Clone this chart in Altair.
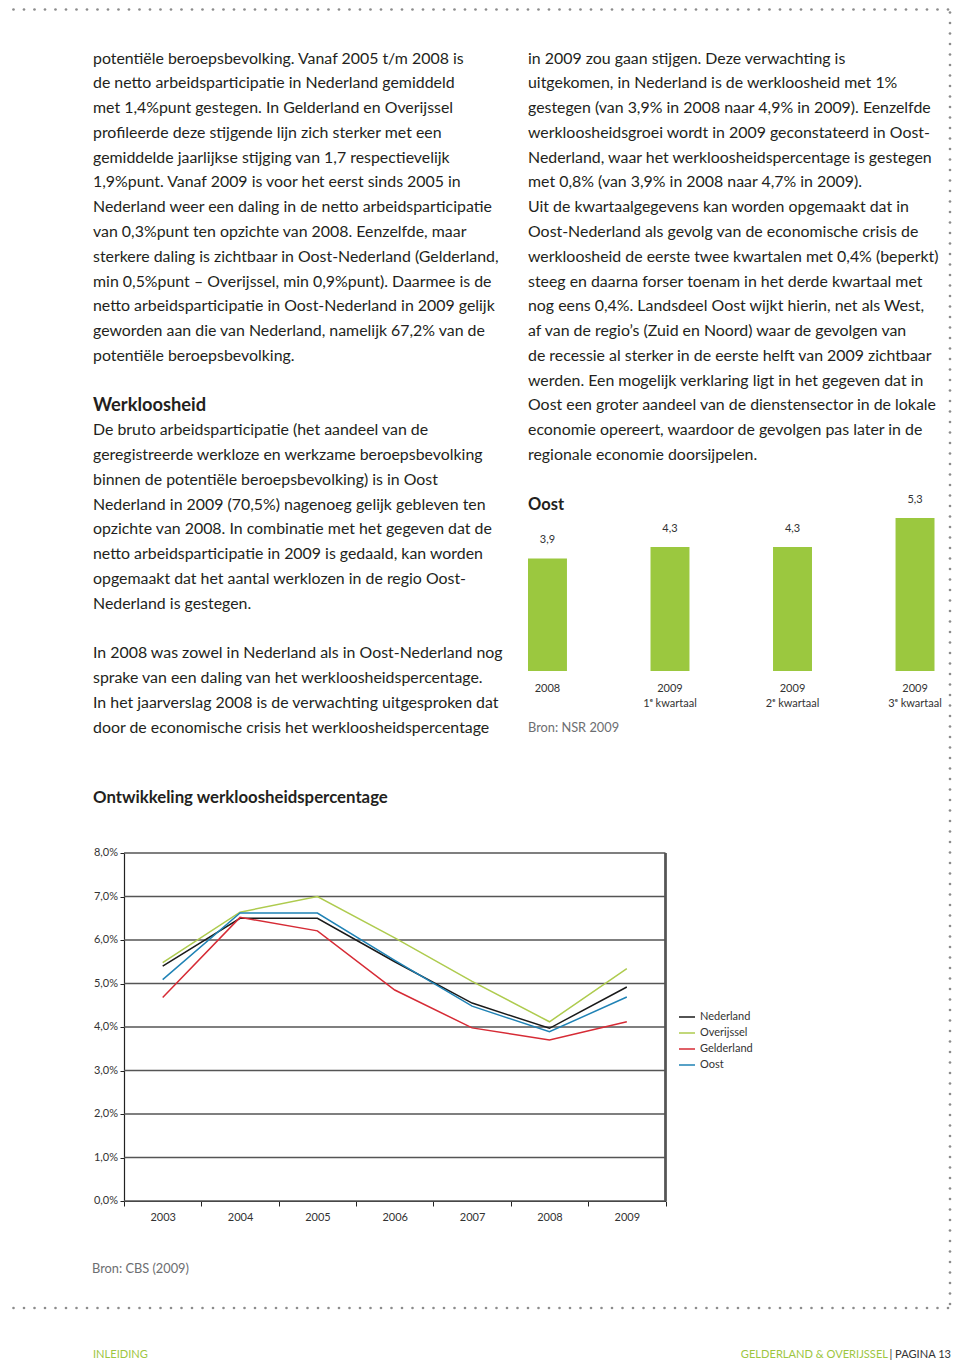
import altair as alt
import pandas as pd

# ---------------- data ----------------
years = ["2003", "2004", "2005", "2006", "2007", "2008", "2009"]
series_names = ["Nederland", "Overijssel", "Gelderland", "Oost"]
series_colors = ["#1a1a1a", "#aecb4e", "#d62b35", "#1f82b5"]
nederland = [5.4, 6.5, 6.5, 5.5, 4.55, 3.97, 4.92]
overijssel = [5.48, 6.64, 7.0, 6.05, 5.05, 4.12, 5.34]
gelderland = [4.68, 6.52, 6.21, 4.85, 3.98, 3.7, 4.12]
oost = [5.09, 6.62, 6.62, 5.53, 4.48, 3.89, 4.69]
y_ticks = [0, 1, 2, 3, 4, 5, 6, 7, 8]

bar_periods = ["2008", "2009 K1", "2009 K2", "2009 K3"]
bar_label_line1 = ["2008", "2009", "2009", "2009"]
bar_label_line2 = ["", "1ᵉ kwartaal", "2ᵉ kwartaal", "3ᵉ kwartaal"]
bar_values = [3.9, 4.3, 4.3, 5.3]

left_block_1 = [
    "potentiële beroepsbevolking. Vanaf 2005 t/m 2008 is",
    "de netto arbeidsparticipatie in Nederland gemiddeld",
    "met 1,4%punt gestegen. In Gelderland en Overijssel",
    "profileerde deze stijgende lijn zich sterker met een",
    "gemiddelde jaarlijkse stijging van 1,7 respectievelijk",
    "1,9%punt. Vanaf 2009 is voor het eerst sinds 2005 in",
    "Nederland weer een daling in de netto arbeidsparticipatie",
    "van 0,3%punt ten opzichte van 2008. Eenzelfde, maar",
    "sterkere daling is zichtbaar in Oost-Nederland (Gelderland,",
    "min 0,5%punt – Overijssel, min 0,9%punt). Daarmee is de",
    "netto arbeidsparticipatie in Oost-Nederland in 2009 gelijk",
    "geworden aan die van Nederland, namelijk 67,2% van de",
    "potentiële beroepsbevolking.",
]
heading_1 = "Werkloosheid"
left_block_2 = [
    "De bruto arbeidsparticipatie (het aandeel van de",
    "geregistreerde werkloze en werkzame beroepsbevolking",
    "binnen de potentiële beroepsbevolking) is in Oost",
    "Nederland in 2009 (70,5%) nagenoeg gelijk gebleven ten",
    "opzichte van 2008. In combinatie met het gegeven dat de",
    "netto arbeidsparticipatie in 2009 is gedaald, kan worden",
    "opgemaakt dat het aantal werklozen in de regio Oost-",
    "Nederland is gestegen.",
]
left_block_3 = [
    "In 2008 was zowel in Nederland als in Oost-Nederland nog",
    "sprake van een daling van het werkloosheidspercentage.",
    "In het jaarverslag 2008 is de verwachting uitgesproken dat",
    "door de economische crisis het werkloosheidspercentage",
]
right_block = [
    "in 2009 zou gaan stijgen. Deze verwachting is",
    "uitgekomen, in Nederland is de werkloosheid met 1%",
    "gestegen (van 3,9% in 2008 naar 4,9% in 2009). Eenzelfde",
    "werkloosheidsgroei wordt in 2009 geconstateerd in Oost-",
    "Nederland, waar het werkloosheidspercentage is gestegen",
    "met 0,8% (van 3,9% in 2008 naar 4,7% in 2009).",
    "Uit de kwartaalgegevens kan worden opgemaakt dat in",
    "Oost-Nederland als gevolg van de economische crisis de",
    "werkloosheid de eerste twee kwartalen met 0,4% (beperkt)",
    "steeg en daarna forser toenam in het derde kwartaal met",
    "nog eens 0,4%. Landsdeel Oost wijkt hierin, net als West,",
    "af van de regio’s (Zuid en Noord) waar de gevolgen van",
    "de recessie al sterker in de eerste helft van 2009 zichtbaar",
    "werden. Een mogelijk verklaring ligt in het gegeven dat in",
    "Oost een groter aandeel van de dienstensector in de lokale",
    "economie opereert, waardoor de gevolgen pas later in de",
    "regionale economie doorsijpelen.",
]
bar_title = "Oost"
bar_source = "Bron: NSR 2009"
line_title = "Ontwikkeling werkloosheidspercentage"
line_source = "Bron: CBS (2009)"
footer_left = "INLEIDING"
footer_right_green = "GELDERLAND & OVERIJSSEL"
footer_right_dark = "| PAGINA 13"

# ---------------- layout (chart pixel space = page minus 8px margin) ----------------
W, H = 944, 1353
FONT = "Lato"
BODY_SIZE = 15.9
LINE_H = 24.78
TOP_BASE = 55.5
LEFT_X = 85
RIGHT_X = 520
TXT = "#231f20"
GREY = "#6d6e71"
GREEN = "#9dc63f"


def base_y(k):
    return TOP_BASE + LINE_H * k


body_rows = []
for i, t in enumerate(left_block_1):
    body_rows.append({"text": t, "x": LEFT_X, "y": base_y(i)})
for i, t in enumerate(left_block_2):
    body_rows.append({"text": t, "x": LEFT_X, "y": base_y(15 + i)})
for i, t in enumerate(left_block_3):
    body_rows.append({"text": t, "x": LEFT_X, "y": base_y(24 + i)})
for i, t in enumerate(right_block):
    body_rows.append({"text": t, "x": RIGHT_X, "y": base_y(i)})
body_df = pd.DataFrame(body_rows)


def text_layer(df, size, color, weight="normal", align="left"):
    return alt.Chart(df).mark_text(
        align=align, baseline="alphabetic", font=FONT, fontSize=size,
        fontWeight=weight, color=color
    ).encode(
        x=alt.X("x:Q", scale=None, axis=None),
        y=alt.Y("y:Q", scale=None, axis=None),
        text="text:N",
    )


body = text_layer(body_df, BODY_SIZE, TXT)
heads = text_layer(pd.DataFrame([{"text": heading_1, "x": LEFT_X, "y": 402.6}]), 18.3, TXT, "bold")
heads2 = text_layer(pd.DataFrame([{"text": bar_title, "x": RIGHT_X, "y": 501.8}]), 16.5, TXT, "bold")
heads3 = text_layer(pd.DataFrame([{"text": line_title, "x": LEFT_X, "y": 795.3}]), 16.8, TXT, "bold")
sources = text_layer(pd.DataFrame([
    {"text": bar_source, "x": RIGHT_X, "y": 724},
    {"text": line_source, "x": LEFT_X - 1, "y": 1265.4},
]), 12.8, GREY)
foot_l = text_layer(pd.DataFrame([{"text": footer_left, "x": LEFT_X, "y": 1349.6}]), 11.1, GREEN)
foot_g = text_layer(pd.DataFrame([{"text": footer_right_green, "x": 880, "y": 1349.6}]), 11.1, GREEN, align="right")
foot_d = text_layer(pd.DataFrame([{"text": footer_right_dark, "x": 943, "y": 1349.6}]), 11.1, "#333333", align="right")

# dotted page frame
dot_rows = []
for i in range(92):
    dot_rows.append({"x": -5 + 10.5 * i, "y": 1.5})
    dot_rows.append({"x": -5 + 10.5 * i, "y": 1300})
for j in range(125):
    yy = -6 + 10.5 * j
    if yy <= 1300:
        dot_rows.append({"x": 942, "y": yy})
dots = alt.Chart(pd.DataFrame(dot_rows)).mark_circle(
    size=7, color="#8c8c8c", opacity=1
).encode(
    x=alt.X("x:Q", scale=None, axis=None),
    y=alt.Y("y:Q", scale=None, axis=None),
)

# ---------------- bar chart ----------------
bar_df = pd.DataFrame({
    "period": bar_periods,
    "value": bar_values,
    "l1": bar_label_line1,
    "l2": bar_label_line2,
})
bx = alt.Scale(domain=bar_periods, range=[520, 926.5], paddingInner=0.682, paddingOuter=0)
by = alt.Scale(domain=[0, 10], range=[663, 374.5])

bars = alt.Chart(bar_df).mark_bar(color="#9bc83f").encode(
    x=alt.X("period:N", scale=bx, sort=bar_periods, axis=alt.Axis(
        orient="bottom", offset=-(H - 663), labels=False, ticks=False, grid=False,
        title=None, domainColor="#808080", domainWidth=1.5)),
    y=alt.Y("value:Q", scale=by, axis=None),
)
bar_vals = alt.Chart(bar_df).transform_calculate(
    lab="replace(format(datum.value, '.1f'), '.', ',')"
).mark_text(dy=-18, font=FONT, fontSize=11, color="#333333", baseline="middle").encode(
    x=alt.X("period:N", scale=bx, sort=bar_periods, axis=None),
    y=alt.Y("value:Q", scale=by, axis=None),
    text="lab:N",
)
bar_lab1 = alt.Chart(bar_df).mark_text(font=FONT, fontSize=11, color="#333333", baseline="middle").encode(
    x=alt.X("period:N", scale=bx, sort=bar_periods, axis=None),
    y=alt.value(681),
    text="l1:N",
)
bar_lab2 = alt.Chart(bar_df).mark_text(font=FONT, fontSize=11, color="#333333", baseline="middle").encode(
    x=alt.X("period:N", scale=bx, sort=bar_periods, axis=None),
    y=alt.value(696),
    text="l2:N",
)
bar_chart = alt.layer(bars, bar_vals, bar_lab1, bar_lab2)

# ---------------- line chart ----------------
rows = []
for name, vals in zip(series_names, [nederland, overijssel, gelderland, oost]):
    for yr, v in zip(years, vals):
        rows.append({"year": yr, "series": name, "value": v})
line_df = pd.DataFrame(rows)

X0, X1 = 116, 657.5
Y0, Y1 = 1193, 845
lx = alt.Scale(type="band", domain=years, range=[X0, X1], paddingInner=0, paddingOuter=0)
ly = alt.Scale(domain=[0, 8], range=[Y0, Y1])

tick_df = pd.DataFrame({"v": y_ticks})
y_axis = alt.Axis(
    orient="left", offset=-X0, values=y_ticks, grid=False, title=None, labels=False,
    tickSize=4, tickColor="#222222", domainColor="#222222", domainWidth=1.2)

grid = alt.Chart(tick_df).mark_rule(color="#555555", strokeWidth=1.6).encode(
    y=alt.Y("v:Q", scale=ly, axis=y_axis),
    x=alt.value(X0),
    x2=alt.value(X1),
)
y_labels = alt.Chart(tick_df).transform_calculate(
    lab="replace(format(datum.v, '.1f'), '.', ',') + '%'"
).mark_text(align="right", baseline="middle", font=FONT, fontSize=11, color="#333333").encode(
    y=alt.Y("v:Q", scale=ly, axis=y_axis),
    x=alt.value(X0 - 6),
    text="lab:N",
)
right_border = alt.Chart(tick_df).mark_rule(color="#555555", strokeWidth=1.4).encode(
    x=alt.value(X1), y=alt.value(Y1), y2=alt.value(Y0)
)
lines = alt.Chart(line_df).mark_line(strokeWidth=1.5).encode(
    x=alt.X("year:O", scale=lx, sort=years, axis=alt.Axis(
        orient="bottom", offset=-(H - Y0), title=None, labelAngle=0, tickBand="extent",
        labelFont=FONT, labelFontSize=11, labelColor="#333333", labelPadding=5,
        tickSize=5, tickColor="#222222", domainColor="#222222", domainWidth=1.2, grid=False)),
    y=alt.Y("value:Q", scale=ly, axis=y_axis),
    color=alt.Color("series:N", sort=series_names,
                    scale=alt.Scale(domain=series_names, range=series_colors),
                    legend=alt.Legend(orient="none", legendX=670, legendY=1000, title=None,
                                      symbolType="stroke", symbolSize=256, symbolStrokeWidth=1.5,
                                      labelFont=FONT, labelFontSize=11, labelColor="#333333",
                                      rowPadding=2, labelOffset=4)),
    detail="series:N",
)
line_chart = alt.layer(grid, y_labels, right_border, lines)

chart = alt.layer(
    dots, body, heads, heads2, heads3, sources, foot_l, foot_g, foot_d,
    bar_chart, line_chart,
).resolve_scale(x="independent", y="independent", color="independent").properties(
    width=W, height=H, padding=0, autosize=alt.AutoSizeParams(type="none"),
    background="white",
).configure_view(stroke=None)

chart.save("out.html", embed_options={"renderer": "svg", "actions": False})
